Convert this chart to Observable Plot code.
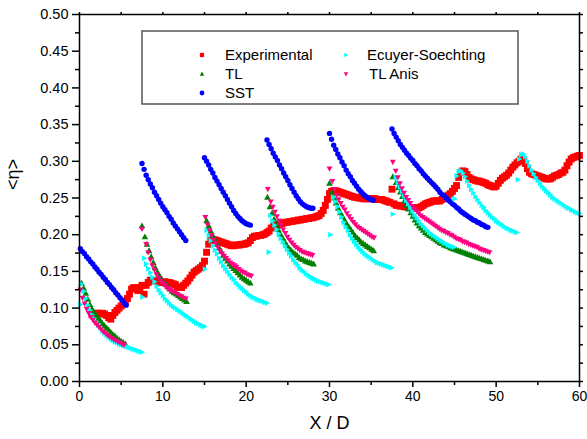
<!DOCTYPE html>
<html>
<head>
<meta charset="utf-8">
<script src="https://cdn.jsdelivr.net/npm/d3@7"></script>
<script src="https://cdn.jsdelivr.net/npm/@observablehq/plot@0.6"></script>
<style>
  html, body { margin: 0; padding: 0; background: #fff; }
  #chart { width: 587px; height: 439px; }
</style>
</head>
<body>
<div id="chart"></div>
<script>
// Mean <η> along the channel (X / D): measurement vs. four turbulence models.
// Model curves are sampled every 0.25 X/D; each segment may begin with a lone lead point.
const sampleStep = 0.25;

const seriesNames = ["Experimental", "TL", "SST", "Ecuyer-Soechting", "TL Anis"];

// Experimental profile, from X/D = 1.5 to 60
const experimentalStart = 1.5;
const experimentalY = [
  0.091,0.092,0.093,0.093,0.092,0.093,0.092,0.090,0.087,0.085,
  0.090,0.094,0.097,0.100,0.103,0.106,0.109,0.113,0.119,0.126,
  0.128,0.127,0.124,0.128,0.131,0.119,0.131,0.135,0.138,0.138,
  0.137,0.137,0.136,0.135,0.135,0.136,0.135,0.135,0.134,0.133,
  0.132,0.129,0.128,0.128,0.131,0.134,0.137,0.141,0.145,0.149,
  0.151,0.153,0.155,0.158,0.164,0.176,0.187,0.192,0.193,0.193,
  0.192,0.191,0.190,0.189,0.188,0.187,0.186,0.185,0.185,0.186,
  0.186,0.186,0.187,0.187,0.188,0.189,0.192,0.196,0.198,0.198,
  0.199,0.199,0.200,0.201,0.203,0.205,0.209,0.211,0.212,0.213,
  0.214,0.215,0.216,0.217,0.217,0.218,0.218,0.219,0.219,0.220,
  0.220,0.221,0.221,0.222,0.222,0.223,0.223,0.224,0.225,0.226,
  0.229,0.233,0.240,0.248,0.256,0.259,0.260,0.260,0.259,0.258,
  0.257,0.256,0.255,0.254,0.253,0.252,0.251,0.251,0.250,0.250,
  0.249,0.249,0.249,0.249,0.249,0.249,0.249,0.248,0.248,0.248,
  0.247,0.246,0.245,0.244,0.262,0.242,0.240,0.240,0.239,0.239,
  0.238,0.238,0.237,0.237,0.237,0.237,0.237,0.237,0.238,0.240,
  0.242,0.243,0.244,0.245,0.246,0.246,0.246,0.246,0.248,0.250,
  0.252,0.254,0.256,0.259,0.263,0.267,0.278,0.285,0.287,0.286,
  0.282,0.278,0.276,0.275,0.274,0.273,0.273,0.272,0.271,0.270,
  0.268,0.267,0.266,0.265,0.266,0.270,0.274,0.277,0.279,0.281,
  0.284,0.288,0.292,0.295,0.298,0.300,0.303,0.302,0.297,0.290,
  0.285,0.283,0.282,0.281,0.280,0.279,0.278,0.277,0.276,0.276,
  0.276,0.278,0.280,0.281,0.282,0.284,0.285,0.288,0.294,0.299,
  0.303,0.305,0.306,0.307,0.308
];

// TL model
const tlSegments = [
  {lead: null, start: 0.25, y: [0.134,0.127,0.120,0.112,0.105,0.099,0.094,0.090,0.086,0.083,0.079,0.076,0.073,0.070,0.067,0.064,0.062,0.059,0.057,0.055,0.053,0.051]},
  {lead: [7.5, 0.212], start: 7.85, y: [0.197,0.187,0.178,0.170,0.162,0.155,0.149,0.144,0.140,0.136,0.132,0.129,0.126,0.123,0.121,0.119,0.117,0.115,0.113,0.111,0.109]},
  {lead: null, start: 15.25, y: [0.219,0.212,0.205,0.199,0.193,0.187,0.182,0.177,0.172,0.168,0.164,0.160,0.157,0.154,0.151,0.148,0.145,0.142,0.140,0.138,0.136,0.134]},
  {lead: [22.55, 0.251], start: 22.85, y: [0.238,0.229,0.221,0.214,0.207,0.201,0.196,0.191,0.186,0.182,0.179,0.176,0.174,0.172,0.169,0.167,0.166,0.164,0.163,0.162,0.161,0.160]},
  {lead: [30.0, 0.270], start: 30.3, y: [0.257,0.250,0.243,0.236,0.230,0.225,0.220,0.215,0.211,0.207,0.203,0.199,0.196,0.193,0.190,0.188,0.186,0.184,0.182,0.180,0.178]},
  {lead: [37.6, 0.279], start: 38.0, y: [0.271,0.264,0.258,0.252,0.246,0.240,0.235,0.230,0.225,0.220,0.216,0.212,0.209,0.206,0.203,0.201,0.199,0.197,0.195,0.193,0.191,0.189,0.188,0.186,0.185,0.184,0.182,0.181,0.180,0.179,0.178,0.177,0.176,0.175,0.174,0.173,0.172,0.171,0.170,0.169,0.168,0.167,0.166,0.165,0.164,0.163]}
];

// SST model
const sstSegments = [
  {lead: null, start: 0.1, y: [0.181,0.177,0.174,0.170,0.167,0.163,0.160,0.156,0.153,0.149,0.146,0.142,0.139,0.135,0.132,0.128,0.125,0.121,0.118,0.114,0.111,0.107,0.104]},
  {lead: null, start: 7.5, y: [0.297,0.289,0.281,0.275,0.269,0.264,0.258,0.253,0.248,0.243,0.238,0.234,0.230,0.225,0.221,0.216,0.212,0.208,0.204,0.200,0.196,0.192]},
  {lead: null, start: 15.0, y: [0.305,0.300,0.295,0.289,0.284,0.278,0.273,0.268,0.263,0.258,0.253,0.248,0.243,0.238,0.233,0.229,0.225,0.222,0.219,0.217,0.215,0.214,0.213]},
  {lead: null, start: 22.5, y: [0.329,0.323,0.317,0.311,0.306,0.301,0.295,0.290,0.284,0.279,0.274,0.268,0.263,0.258,0.253,0.249,0.245,0.242,0.240,0.238,0.237,0.236,0.236]},
  {lead: null, start: 30.0, y: [0.338,0.330,0.322,0.316,0.310,0.305,0.299,0.294,0.288,0.283,0.279,0.274,0.270,0.266,0.262,0.259,0.256,0.253,0.251,0.249,0.248,0.247]},
  {lead: null, start: 37.5, y: [0.344,0.338,0.333,0.328,0.323,0.319,0.315,0.311,0.308,0.304,0.301,0.297,0.294,0.290,0.287,0.283,0.280,0.277,0.274,0.271,0.268,0.265,0.262,0.258,0.255,0.253,0.250,0.247,0.245,0.242,0.240,0.237,0.235,0.232,0.230,0.228,0.226,0.224,0.222,0.220,0.219,0.217,0.216,0.214,0.213,0.211,0.210]}
];

// Ecuyer-Soechting model
const ecuyerSegments = [
  {lead: [0.1, 0.105], start: 0.25, y: [0.133,0.123,0.113,0.104,0.097,0.091,0.086,0.081,0.077,0.073,0.069,0.066,0.063,0.061,0.058,0.056,0.054,0.053,0.051,0.050,0.049,0.048,0.047,0.046,0.045,0.044,0.043,0.042,0.041,0.040]},
  {lead: [7.55, 0.115], start: 7.75, y: [0.168,0.160,0.154,0.148,0.142,0.136,0.130,0.125,0.121,0.117,0.113,0.110,0.107,0.104,0.102,0.100,0.098,0.096,0.094,0.092,0.090,0.088,0.086,0.084,0.082,0.080,0.079,0.077,0.076,0.075]},
  {lead: [15.05, 0.153], start: 15.25, y: [0.206,0.199,0.192,0.185,0.179,0.174,0.168,0.163,0.158,0.154,0.150,0.146,0.142,0.139,0.135,0.132,0.129,0.127,0.124,0.122,0.119,0.117,0.115,0.114,0.112,0.111,0.110,0.109,0.108,0.107]},
  {lead: [22.7, 0.176], start: 22.9, y: [0.226,0.219,0.213,0.207,0.201,0.195,0.190,0.185,0.180,0.175,0.171,0.166,0.162,0.159,0.155,0.152,0.150,0.147,0.145,0.143,0.141,0.140,0.138,0.137,0.136,0.135,0.134,0.133,0.132]},
  {lead: [30.1, 0.200], start: 30.45, y: [0.251,0.245,0.238,0.231,0.224,0.217,0.211,0.206,0.200,0.195,0.191,0.187,0.183,0.180,0.177,0.174,0.172,0.170,0.168,0.166,0.164,0.162,0.161,0.160,0.159,0.158,0.157,0.156,0.155]},
  {lead: [37.6, 0.228], start: 37.95, y: [0.278,0.271,0.265,0.259,0.253,0.247,0.242,0.237,0.232,0.227,0.223,0.219,0.215,0.212,0.209,0.206,0.203,0.201,0.199,0.197,0.195,0.193,0.191,0.189,0.188,0.186,0.185,0.184,0.183]},
  {lead: [45.0, 0.249], start: 45.25, y: [0.280,0.286,0.287,0.284,0.279,0.273,0.267,0.262,0.257,0.252,0.248,0.244,0.240,0.237,0.233,0.230,0.227,0.224,0.222,0.219,0.217,0.215,0.213,0.211,0.209,0.208,0.206,0.205,0.204,0.203]},
  {lead: [52.6, 0.275], start: 52.75, y: [0.303,0.309,0.310,0.306,0.300,0.294,0.288,0.283,0.278,0.274,0.270,0.266,0.263,0.260,0.257,0.254,0.251,0.249,0.247,0.245,0.243,0.241,0.239,0.237,0.236,0.234,0.233,0.231,0.230,0.229]}
];

// TL Anis model
const tlAnisSegments = [
  {lead: null, start: 0.1, y: [0.125,0.114,0.106,0.099,0.093,0.088,0.084,0.080,0.077,0.074,0.071,0.068,0.066,0.063,0.061,0.059,0.057,0.056,0.054,0.053,0.051,0.050]},
  {lead: [7.5, 0.208], start: 8.0, y: [0.187,0.176,0.166,0.158,0.152,0.146,0.141,0.137,0.134,0.131,0.128,0.126,0.124,0.122,0.121,0.119,0.117,0.116,0.114,0.113]},
  {lead: null, start: 15.1, y: [0.224,0.214,0.206,0.199,0.193,0.188,0.183,0.178,0.174,0.171,0.168,0.165,0.162,0.160,0.158,0.156,0.153,0.151,0.149,0.148,0.146,0.145,0.144]},
  {lead: [22.6, 0.262], start: 22.95, y: [0.245,0.238,0.231,0.225,0.219,0.213,0.207,0.202,0.197,0.193,0.189,0.186,0.183,0.181,0.179,0.177,0.176,0.175,0.174,0.173,0.172]},
  {lead: [30.0, 0.290], start: 30.35, y: [0.273,0.262,0.254,0.248,0.243,0.238,0.234,0.229,0.225,0.221,0.217,0.214,0.211,0.209,0.207,0.205,0.203,0.201,0.199,0.197,0.196]},
  {lead: [37.6, 0.299], start: 37.95, y: [0.287,0.278,0.270,0.263,0.257,0.251,0.247,0.243,0.239,0.235,0.232,0.229,0.226,0.224,0.222,0.220,0.218,0.216,0.214,0.212,0.210,0.208,0.206,0.205,0.203,0.202,0.200,0.199,0.197,0.195,0.194,0.193,0.191,0.190,0.189,0.187,0.186,0.185,0.184,0.183,0.181,0.180,0.179,0.178,0.177,0.176]}
];

// Axis ticks
const xMajor = [0, 10, 20, 30, 40, 50, 60];
const xMinor = [5, 15, 25, 35, 45, 55];
const xTop = [0, 5, 10, 15, 20, 25, 30, 35, 40, 45, 50, 55, 60];
const yMajor = [0, 0.05, 0.10, 0.15, 0.20, 0.25, 0.30, 0.35, 0.40, 0.45, 0.50];
const yMinor = [0.025, 0.075, 0.125, 0.175, 0.225, 0.275, 0.325, 0.375, 0.425, 0.475];
const yRight = [0, 0.025, 0.05, 0.075, 0.10, 0.125, 0.15, 0.175, 0.20, 0.225, 0.25, 0.275, 0.30, 0.325, 0.35, 0.375, 0.40, 0.425, 0.45, 0.475, 0.50];

// ---- styling ----
const FONT = "'Liberation Sans', Arial, Helvetica, sans-serif";
const colors = {
  "Experimental": "#ff0000",
  "TL": "#008000",
  "SST": "#0000ff",
  "Ecuyer-Soechting": "#00ffff",
  "TL Anis": "#ff0080"
};

// Triangle symbols (size = π r², as Plot passes it)
const triUp = {draw(ctx, size) { const r = Math.sqrt(size / Math.PI);
  ctx.moveTo(0, -r); ctx.lineTo(r * 0.95, r * 0.7); ctx.lineTo(-r * 0.95, r * 0.7); ctx.closePath(); }};
const triDown = {draw(ctx, size) { const r = Math.sqrt(size / Math.PI);
  ctx.moveTo(0, r); ctx.lineTo(r * 0.95, -r * 0.7); ctx.lineTo(-r * 0.95, -r * 0.7); ctx.closePath(); }};
const triRight = {draw(ctx, size) { const r = Math.sqrt(size / Math.PI);
  ctx.moveTo(r, 0); ctx.lineTo(-r * 0.7, -r * 0.95); ctx.lineTo(-r * 0.7, r * 0.95); ctx.closePath(); }};

const symbols = {
  "Experimental": d3.symbolSquare,
  "TL": triUp,
  "SST": d3.symbolCircle,
  "Ecuyer-Soechting": triRight,
  "TL Anis": triDown
};

function expand(segments) {
  const rows = [];
  for (const s of segments) {
    if (s.lead) rows.push({x: s.lead[0], y: s.lead[1]});
    s.y.forEach((v, i) => rows.push({x: s.start + i * sampleStep, y: v}));
  }
  return rows;
}

const experimental = experimentalY.map((v, i) => ({x: experimentalStart + i * sampleStep, y: v}));
const tl = expand(tlSegments);
const sst = expand(sstSegments);
const ecuyer = expand(ecuyerSegments);
const tlAnis = expand(tlAnisSegments);

const noText = () => "";

const chart = Plot.plot({
  width: 587,
  height: 439,
  marginLeft: 79,
  marginRight: 8,
  marginTop: 14,
  marginBottom: 58,
  style: {fontFamily: FONT, fontSize: "14px", color: "black", background: "white"},
  x: {domain: [0, 60], axis: null},
  y: {domain: [0, 0.5], axis: null},
  marks: [
    Plot.dot(experimental, {x: "x", y: "y", symbol: symbols["Experimental"], r: 3.9, fill: colors["Experimental"]}),
    Plot.dot(tl, {x: "x", y: "y", symbol: symbols["TL"], r: 3.5, fill: colors["TL"]}),
    Plot.dot(sst, {x: "x", y: "y", symbol: symbols["SST"], r: 2.7, fill: colors["SST"]}),
    Plot.dot(ecuyer, {x: "x", y: "y", symbol: symbols["Ecuyer-Soechting"], r: 3.1, fill: colors["Ecuyer-Soechting"]}),
    Plot.dot(tlAnis, {x: "x", y: "y", symbol: symbols["TL Anis"], r: 3.1, fill: colors["TL Anis"]}),
    Plot.axisY({ticks: yMajor, tickSize: 7, tickPadding: 4, tickFormat: d3.format(".2f"), label: null, strokeWidth: 1.5, fontSize: 14.5}),
    Plot.axisY({ticks: yMinor, tickSize: 4, tickFormat: noText, label: null, strokeWidth: 1.5}),
    Plot.axisY({anchor: "right", ticks: yRight, tickSize: 3, tickFormat: noText, label: null, strokeWidth: 1.5}),
    Plot.axisX({ticks: xMajor, tickSize: 6, tickPadding: 4, tickFormat: d3.format("d"), label: null, strokeWidth: 1.5, fontSize: 14}),
    Plot.axisX({ticks: xMinor, tickSize: 4, tickFormat: noText, label: null, strokeWidth: 1.5}),
    Plot.axisX({anchor: "top", ticks: xTop, tickSize: 3, tickFormat: noText, label: null, strokeWidth: 1.5}),
    Plot.frame({stroke: "black", strokeWidth: 1.5}),
    Plot.text(["X / D"], {frameAnchor: "bottom", dy: 47, fontSize: 18}),
    Plot.text(["<η>"], {frameAnchor: "left", dx: -66, dy: -8, rotate: -90, fontSize: 18})
  ]
});

// Legend box inside the plot area
const svg = d3.select(chart);
const legend = svg.append("g")
  .attr("font-family", FONT).attr("font-size", 15)
  .attr("fill", "black").attr("text-anchor", "start");
legend.append("rect")
  .attr("x", 142).attr("y", 31).attr("width", 376).attr("height", 73)
  .attr("fill", "white").attr("stroke", "#555").attr("stroke-width", 1.5);

const legendSlots = [
  {mx: 202, tx: 225, y: 55},
  {mx: 202, tx: 225, y: 74},
  {mx: 202, tx: 225, y: 93},
  {mx: 346, tx: 367, y: 55},
  {mx: 346, tx: 369, y: 74}
];
const legendR = 2.4;
seriesNames.forEach((name, i) => {
  const slot = legendSlots[i];
  legend.append("path")
    .attr("transform", `translate(${slot.mx},${slot.y})`)
    .attr("d", d3.symbol().type(symbols[name]).size(Math.PI * legendR * legendR)())
    .attr("fill", colors[name]);
  legend.append("text")
    .attr("x", slot.tx).attr("y", slot.y).attr("dy", "0.35em")
    .text(name);
});

document.getElementById("chart").appendChild(chart);
</script>
</body>
</html>
